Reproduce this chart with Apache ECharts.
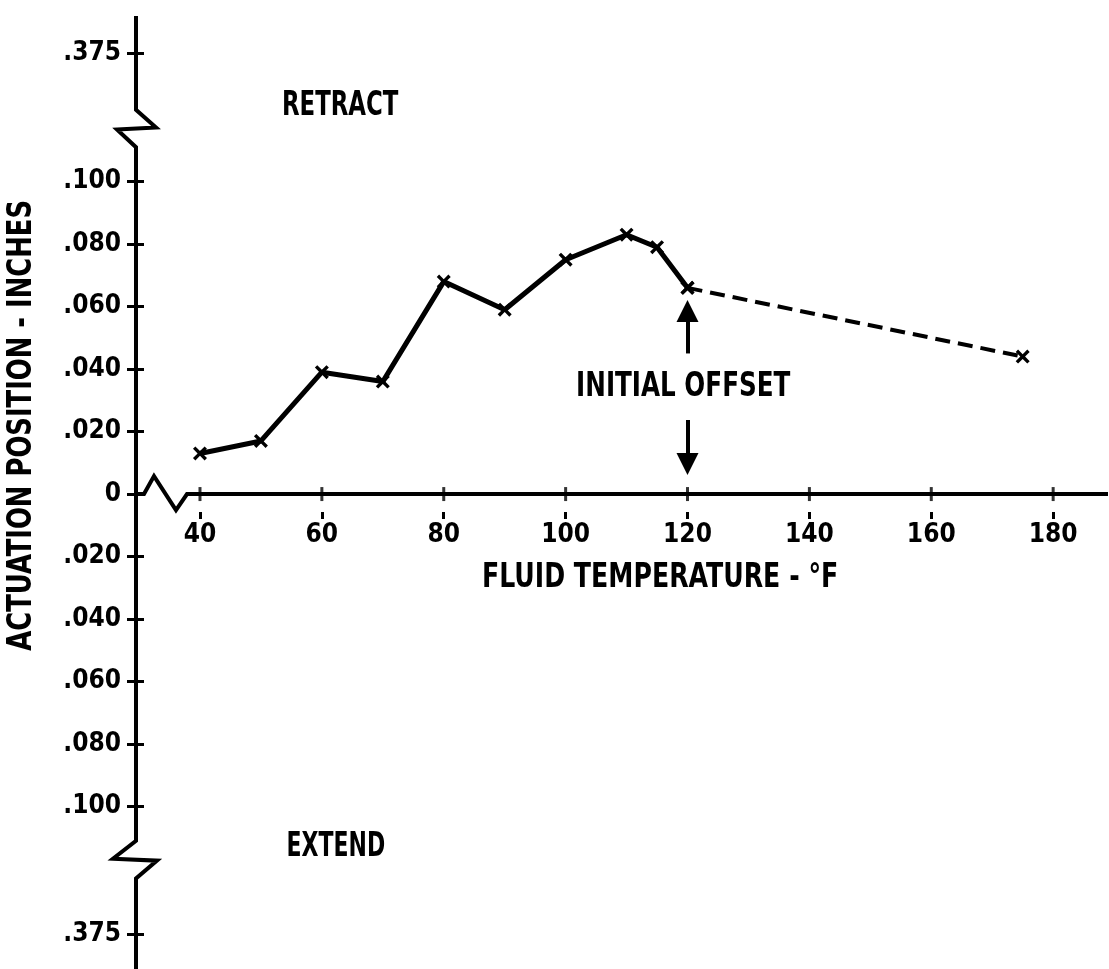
<!DOCTYPE html>
<html><head><meta charset="utf-8">
<script src="https://cdn.jsdelivr.net/npm/echarts@6/dist/echarts.min.js"></script>
<style>html,body{margin:0;padding:0;background:#fff}#c{width:1109px;height:969px}</style>
</head><body><div id="c"></div>
<script>
// ---- data ----
const temperatures = [40, 50, 60, 70, 80, 90, 100, 110, 115, 120];
const positions = [0.013, 0.017, 0.039, 0.036, 0.068, 0.059, 0.075, 0.083, 0.079, 0.066];
const extrapTemps = [120, 175];
const extrapPositions = [0.066, 0.044];
const xTickValues = [40, 60, 80, 100, 120, 140, 160, 180];
const yTickValues = [0.141, 0.1, 0.08, 0.06, 0.04, 0.02, 0, -0.02, -0.04, -0.06, -0.08, -0.1, -0.141];
const yTickLabels = ['.375', '.100', '.080', '.060', '.040', '.020', '0', '.020', '.040', '.060', '.080', '.100', '.375'];
const yBreaks = [[0.123, 0.111], [-0.111, -0.123]];
const xRange = [29.5, 189];
const yRange = [-0.152, 0.153];
const arrowUp = [[120, 0.045], [120, 0.0586]];
const arrowDown = [[120, 0.0237], [120, 0.0096]];
const yTitle = 'ACTUATION POSITION - INCHES';
const xTitle = 'FLUID TEMPERATURE - °F';
const notes = ['RETRACT', 'EXTEND', 'INITIAL OFFSET'];

// ---- chart ----
const FONT = "'Liberation Sans Narrow','DejaVu Sans Condensed','Arial Narrow',sans-serif";
const chart = echarts.init(document.getElementById('c'), null, {renderer: 'canvas'});
const XMARK = 'path://M0,1.7L1.7,0L5,3.3L8.3,0L10,1.7L6.7,5L10,8.3L8.3,10L5,6.7L1.7,10L0,8.3L3.3,5Z';

function labelFmt(v) {
  const i = yTickValues.findIndex(t => Math.abs(t - v) < 1e-9);
  return i >= 0 ? yTickLabels[i] : '';
}
const axisLabelStyle = {color: '#000', fontFamily: FONT, fontWeight: 'bold', fontSize: 26};

const baseY = {
  type: 'value', min: yRange[0], max: yRange[1], position: 'left',
  axisLine: {show: false, onZero: false},
  splitLine: {show: false},
};

chart.setOption({
  animation: false,
  backgroundColor: '#fff',
  grid: {left: 136, right: 1, top: 16, bottom: 0, containLabel: false},
  xAxis: {
    type: 'value', min: xRange[0], max: xRange[1], position: 'bottom', offset: 0,
    splitLine: {show: false},
    axisLine: {show: false, onZero: false},
    axisTick: {show: true, inside: false, length: 7, lineStyle: {color: '#000', width: 3}, customValues: xTickValues},
    axisLabel: Object.assign({show: true, margin: 10, customValues: xTickValues, formatter: v => String(v)}, axisLabelStyle)
  },
  yAxis: [
    Object.assign({}, baseY, {
      axisTick: {show: true, inside: false, length: 9, lineStyle: {color: '#000', width: 3}, customValues: yTickValues},
      axisLabel: Object.assign({show: true, margin: 15, customValues: yTickValues, formatter: labelFmt}, axisLabelStyle)
    }),
    Object.assign({}, baseY, {
      axisTick: {show: true, inside: true, length: 8, lineStyle: {color: '#000', width: 3}, customValues: yTickValues},
      axisLabel: {show: false}
    })
  ],
  series: [
    {
      // upper half of the x-axis cross ticks
      type: 'scatter', name: 'xticks', silent: true,
      data: xTickValues.map(v => [v, 0]),
      symbol: 'rect', symbolSize: [3, 14], itemStyle: {color: '#000'}, z: 2
    },
    {
      type: 'line', name: 'measured',
      data: temperatures.map((t, i) => [t, positions[i]]),
      lineStyle: {color: '#000', width: 5},
      symbol: XMARK, symbolSize: 14, showSymbol: true,
      itemStyle: {color: '#000'},
      z: 3
    },
    {
      type: 'line', name: 'extrapolated',
      data: extrapTemps.map((t, i) => [t, extrapPositions[i]]),
      lineStyle: {color: '#000', width: 4, type: [15, 8]},
      symbol: XMARK, symbolSize: 14, showSymbol: true,
      itemStyle: {color: '#000'},
      z: 3,
      markLine: {
        silent: true, animation: false,
        symbol: ['none', 'triangle'], symbolSize: 22,
        label: {show: false},
        lineStyle: {color: '#000', width: 4, type: 'solid'},
        data: [
          [{coord: arrowUp[0]}, {coord: arrowUp[1]}],
          [{coord: arrowDown[0]}, {coord: arrowDown[1]}]
        ]
      }
    }
  ]
});

function px(x, y) { return chart.convertToPixel({gridIndex: 0}, [x, y]); }

// move the x axis (ticks + labels) up onto the zero line
const zeroPx = px(xRange[0], 0)[1];
const bottomPx = px(xRange[0], yRange[0])[1];
chart.setOption({xAxis: {offset: -(bottomPx - zeroPx)}});

// axis lines with break symbols
const yTop = px(xRange[0], yRange[1]);
const yBot = px(xRange[0], yRange[0]);
const a1 = px(xRange[0], yBreaks[0][0]), d1 = px(xRange[0], yBreaks[0][1]);
const a2 = px(xRange[0], yBreaks[1][0]), d2 = px(xRange[0], yBreaks[1][1]);
const m1 = (a1[1] + d1[1]) / 2, m2 = (a2[1] + d2[1]) / 2;
const yAxisPts = [
  yTop, a1, [a1[0] + 20, m1 - 1], [a1[0] - 19, m1 + 1], d1,
  a2, [a2[0] - 23, m2 - 1], [a2[0] + 21, m2 + 1], d2, yBot
];
const o = px(xRange[0], 0);
const xEnd = px(xRange[1], 0);
const xAxisPts = [o, [o[0] + 8, o[1]], [o[0] + 18, o[1] - 18], [o[0] + 40, o[1] + 16], [o[0] + 51, o[1]], xEnd];

const txt = (p, s, sx, extra) => Object.assign({
  type: 'text', x: p[0], y: p[1], scaleX: sx,
  style: {text: s, fill: '#000', font: 'bold 33px ' + FONT, textAlign: 'center', textVerticalAlign: 'middle'}
}, extra || {});

chart.setOption({
  graphic: [
    {type: 'polyline', shape: {points: yAxisPts}, style: {stroke: '#000', lineWidth: 4, fill: null, lineJoin: 'miter'}, z: 10},
    {type: 'polyline', shape: {points: xAxisPts}, style: {stroke: '#000', lineWidth: 4, fill: null, lineJoin: 'miter'}, z: 10},
    txt(px(63, 0.124), notes[0], 0.77),
    txt(px(62.3, -0.113), notes[1], 0.74),
    txt(px(119.3, 0.034), notes[2], 0.83),
    txt(px(115.5, -0.027), xTitle, 0.85),
    txt(px(10.8, 0.022), yTitle, 0.87, {rotation: Math.PI / 2})
  ]
});
</script>
</body></html>
